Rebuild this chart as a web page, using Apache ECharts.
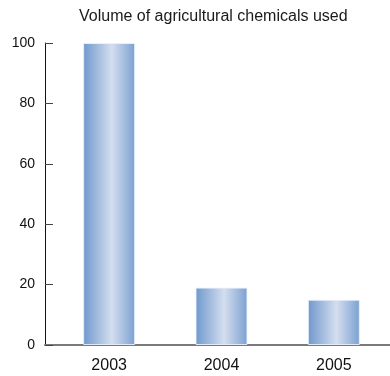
<!DOCTYPE html>
<html>
<head>
<meta charset="utf-8">
<script src="https://cdn.jsdelivr.net/npm/echarts@6/dist/echarts.min.js"></script>
<style>
  html, body { margin: 0; padding: 0; background: #fff; }
  #chart { width: 390px; height: 376px; }
</style>
</head>
<body>
<div id="chart"></div>
<script>
// Chart data
const titleText = 'Volume of agricultural chemicals used';
const years = ['2003', '2004', '2005'];
const volumes = [100, 19, 15];
const yTicks = { min: 0, max: 100, step: 20 };

const FONT = '"Liberation Sans", Arial, sans-serif';

const chart = echarts.init(document.getElementById('chart'), null, { renderer: 'canvas' });

const barFill = new echarts.graphic.LinearGradient(0, 0, 1, 0, [
  { offset: 0, color: '#6f98cd' },
  { offset: 0.55, color: '#d4deef' },
  { offset: 1, color: '#7ba0d1' }
]);

chart.setOption({
  animation: false,
  backgroundColor: '#ffffff',
  title: {
    text: titleText,
    left: 74,
    top: 4,
    textStyle: { fontFamily: FONT, fontSize: 16, fontWeight: 'normal', color: '#1a1a1a' }
  },
  grid: [
    { left: 53, right: -3, top: 43, bottom: 31, containLabel: false },
    { left: 45, right: 0, top: 43, bottom: 31, containLabel: false }
  ],
  xAxis: [
    {
      type: 'category',
      gridIndex: 0,
      data: years,
      axisLine: { show: false },
      axisTick: { show: false },
      axisLabel: { fontFamily: FONT, fontSize: 16, color: '#111', margin: 13 }
    },
    {
      // baseline running under the whole plot, from the y axis to the right edge
      type: 'value',
      gridIndex: 1,
      min: 0,
      max: 1,
      axisLine: { show: true, lineStyle: { color: '#7a7a7a', width: 2 } },
      axisTick: { show: false },
      axisLabel: { show: false },
      splitLine: { show: false }
    }
  ],
  yAxis: [
    {
      type: 'value',
      gridIndex: 0,
      min: yTicks.min,
      max: yTicks.max,
      interval: yTicks.step,
      offset: 8,
      axisLine: { show: true, lineStyle: { color: '#111', width: 1 } },
      axisTick: { show: true, inside: true, length: 8, lineStyle: { color: '#444', width: 1 } },
      axisLabel: { fontFamily: FONT, fontSize: 14, color: '#111', margin: 10 },
      splitLine: { show: false }
    },
    {
      type: 'value',
      gridIndex: 1,
      min: 0,
      max: 1,
      show: false
    }
  ],
  series: [
    {
      type: 'bar',
      xAxisIndex: 0,
      yAxisIndex: 0,
      data: volumes,
      barWidth: 52,
      itemStyle: {
        color: barFill,
        borderColor: 'rgba(235,242,252,0.9)',
        borderWidth: 1
      }
    }
  ]
});
</script>
</body>
</html>
